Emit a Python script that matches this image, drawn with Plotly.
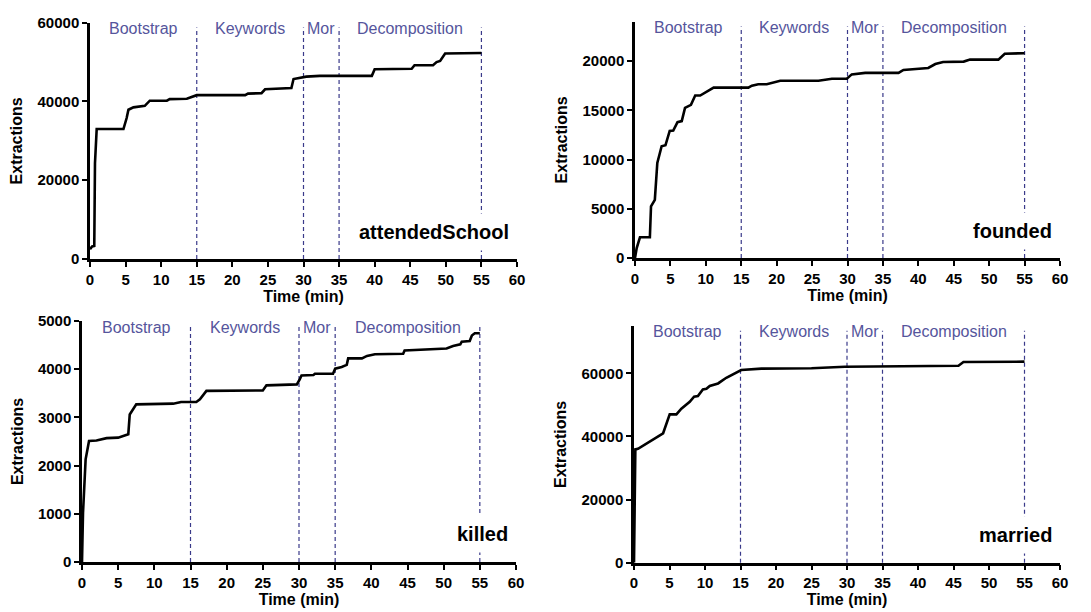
import plotly.graph_objects as go

# ---------------- data ----------------
school_t = [0, 0.3, 0.6, 0.7, 0.94, 4.7, 5.15, 5.4, 6.1, 7.7, 8.4, 10.8, 11.2, 13.6, 15.0, 21.8, 22.2,
            24.1, 24.6, 28.3, 28.6, 29.7, 30.4, 32.3, 39.6, 40.0, 45.2, 45.6, 48.2, 48.7, 49.2, 49.9, 54.8, 55.0]
school_v = [2500, 3200, 3300, 24300, 33000, 33000, 35800, 37900, 38500, 38900, 40200, 40200, 40600, 40700,
            41600, 41600, 42000, 42100, 43100, 43400, 45700, 46100, 46300, 46500, 46500, 48200, 48300, 49200,
            49200, 50000, 50300, 52200, 52200, 52300]

founded_t = [0, 0.24, 0.7, 2.1, 2.26, 2.8, 3.15, 3.76, 4.3, 4.9, 5.4, 6.0, 6.6, 7.06, 7.9, 8.5, 9.2, 11.1,
             16.0, 16.5, 17.4, 18.6, 20.5, 25.9, 27.8, 29.9, 30.6, 32.5, 37.2, 37.9, 41.4, 42.4, 43.5, 46.4,
             47.3, 51.3, 52.2, 55.0]
founded_v = [0, 1000, 2100, 2100, 5250, 5900, 9660, 11350, 11450, 12900, 12950, 13800, 13900, 15250, 15550,
             16500, 16500, 17300, 17300, 17500, 17650, 17650, 18000, 18000, 18200, 18200, 18650, 18800, 18800,
             19100, 19300, 19700, 19900, 19950, 20150, 20150, 20750, 20800]

killed_t = [0, 0.14, 0.5, 0.97, 2.0, 3.4, 5.0, 6.4, 6.6, 7.5, 12.6, 13.7, 15.8, 16.3, 17.2, 25.0, 25.5,
            29.7, 30.1, 30.35, 32.0, 32.2, 34.7, 35.0, 35.9, 36.6, 36.8, 38.7, 39.4, 40.5, 44.4, 44.6, 50.4,
            51.3, 52.3, 52.5, 53.6, 53.9, 54.3, 55.0]
killed_v = [0, 1020, 2130, 2510, 2520, 2570, 2580, 2650, 3060, 3270, 3285, 3320, 3320, 3375, 3550, 3560,
            3665, 3685, 3790, 3870, 3880, 3905, 3905, 4010, 4045, 4090, 4225, 4225, 4275, 4310, 4320, 4390,
            4430, 4480, 4515, 4570, 4585, 4700, 4745, 4745]

married_t = [0, 0.19, 0.56, 3.85, 4.1, 5.03, 5.97, 6.67, 7.85, 8.46, 9.0, 9.7, 10.2, 10.67, 11.84, 13.0,
             15.1, 17.95, 25.0, 29.7, 45.7, 46.4, 55.0]
married_v = [0, 35900, 36100, 40700, 41000, 47000, 47000, 48800, 51000, 52600, 52800, 54900, 55100, 56000,
             56800, 58600, 61050, 61500, 61600, 62100, 62400, 63600, 63700]

relations = ["attendedSchool", "founded", "killed", "married"]
y_max = [60000, 24000, 5000, 75000]
y_ticks = [[0, 20000, 40000, 60000],
           [0, 5000, 10000, 15000, 20000],
           [0, 1000, 2000, 3000, 4000, 5000],
           [0, 20000, 40000, 60000]]
x_ticks = list(range(0, 61, 5))

phase_bounds = [15, 30, 35, 55]
phase_names = ["Bootstrap", "Keywords", "Mor", "Decomposition"]
phase_centers = [7.5, 22.5, 32.5, 45]

series = [(school_t, school_v), (founded_t, founded_v), (killed_t, killed_v), (married_t, married_v)]

# ---------------- layout geometry ----------------
W, H = 1091, 612
# pixel boxes (left, right, top, bottom) of each plotting area
boxes = [(90, 517, 22.7, 259), (635, 1060, 21.7, 258), (82, 516, 321, 562), (634, 1060, 326, 562.7)]

FONT = "Arial, Liberation Sans, Helvetica, sans-serif"
PHASE_COL = "#55559c"
DASH_COL = "#3a3a8a"

fig = go.Figure()
layout = dict(width=W, height=H, margin=dict(l=0, r=0, t=0, b=0, autoexpand=False),
              paper_bgcolor="white", plot_bgcolor="white", showlegend=False,
              font=dict(family=FONT, color="black"))
annotations = []
shapes = []

for i, ((tt, vv), name) in enumerate(zip(series, relations)):
    n = i + 1
    xa = "x" if n == 1 else f"x{n}"
    ya = "y" if n == 1 else f"y{n}"
    xk = "xaxis" if n == 1 else f"xaxis{n}"
    yk = "yaxis" if n == 1 else f"yaxis{n}"
    l, r, t, b = boxes[i]
    dom_x = [l / W, r / W]
    dom_y = [1 - b / H, 1 - t / H]

    fig.add_trace(go.Scatter(x=tt, y=vv, mode="lines", xaxis=xa, yaxis=ya,
                             line=dict(color="black", width=2.6), hoverinfo="skip"))

    layout[xk] = dict(domain=dom_x, anchor=ya, range=[0, 60], tickmode="array", tickvals=x_ticks,
                      ticktext=[f"<b>{v}</b>" for v in x_ticks], automargin=False,
                      showline=True, linecolor="black", linewidth=2.5, ticks="outside",
                      ticklen=5, tickwidth=2, tickcolor="black", showgrid=False, zeroline=False,
                      tickfont=dict(size=15, family=FONT, color="black"),
                      title=dict(text="<b>Time (min)</b>", font=dict(size=16, family=FONT), standoff=0))
    layout[yk] = dict(domain=dom_y, anchor=xa, range=[0, y_max[i]], tickmode="array",
                      tickvals=y_ticks[i], ticktext=[f"<b>{v}</b>" for v in y_ticks[i]], automargin=False,
                      showline=True, linecolor="black", linewidth=2.5, ticks="outside",
                      ticklen=5, tickwidth=2, tickcolor="black", showgrid=False, zeroline=False,
                      tickfont=dict(size=15, family=FONT, color="black"),
                      title=dict(text="<b>Extractions</b>", font=dict(size=16, family=FONT), standoff=11))

    # phase boundary dashed lines
    for xb in phase_bounds:
        shapes.append(dict(type="line", xref=xa, yref=f"{ya} domain", x0=xb, x1=xb, y0=0, y1=0.98,
                           line=dict(color=DASH_COL, width=1.2, dash="4px,3px"), layer="below"))
    # phase labels
    for name_p, xc in zip(phase_names, phase_centers):
        annotations.append(dict(text=name_p, x=xc, xref=xa, y=0.975, yref=f"{ya} domain",
                                showarrow=False, xanchor="center", yanchor="middle",
                                font=dict(size=16, family=FONT, color=PHASE_COL)))
    # relation label
    annotations.append(dict(text=f"<b>{name}</b>", x=1.0, xref=f"{xa} domain", y=0.115,
                            yref=f"{ya} domain", showarrow=False, xanchor="right", yanchor="middle",
                            bgcolor="white", borderpad=7,
                            font=dict(size=20, family=FONT, color="black")))

layout["annotations"] = annotations
layout["shapes"] = shapes
fig.update_layout(**layout)
fig.write_html("out.html", config={"displayModeBar": False},
               post_script="document.body.style.margin='0';document.body.style.overflow='hidden';")
